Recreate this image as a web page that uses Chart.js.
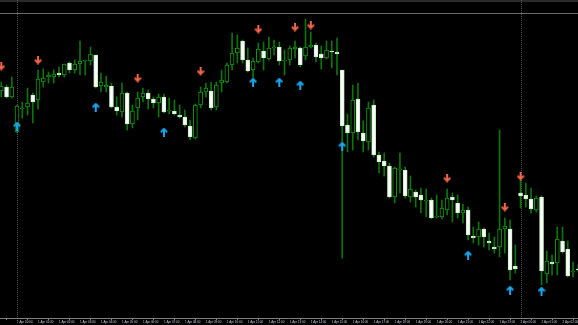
<!DOCTYPE html>
<html>
<head>
<meta charset="utf-8">
<script src="https://cdn.jsdelivr.net/npm/chart.js@4.4.1/dist/chart.umd.min.js"></script>
<style>
  html, body { margin: 0; padding: 0; background: #000; overflow: hidden; }
  canvas { display: block; }
</style>
</head>
<body>
<canvas id="grafico" width="578" height="325"></canvas>
<script>
// M15 candles (prices)
const opens = [
  1.0909, 1.0913, 1.0903, 1.0868, 1.0891, 1.0893, 1.0905, 1.0900, 1.0918, 1.0923,
  1.0923, 1.0927, 1.0925, 1.0937, 1.0930, 1.0936, 1.0939, 1.0939, 1.0945, 1.0914,
  1.0913, 1.0914, 1.0893, 1.0888, 1.0907, 1.0876, 1.0892, 1.0903, 1.0907, 1.0901,
  1.0897, 1.0903, 1.0889, 1.0889, 1.0885, 1.0883, 1.0874, 1.0862, 1.0895, 1.0908,
  1.0909, 1.0893, 1.0917, 1.0918, 1.0935, 1.0947, 1.0959, 1.0940, 1.0930, 1.0938,
  1.0949, 1.0941, 1.0952, 1.0953, 1.0939, 1.0940, 1.0951, 1.0952, 1.0944, 1.0953,
  1.0955, 1.0946, 1.0942, 1.0949, 1.0948, 1.0930, 1.0875, 1.0867, 1.0901, 1.0867,
  1.0858, 1.0895, 1.0845, 1.0839, 1.0834, 1.0803, 1.0830, 1.0830, 1.0803, 1.0808,
  1.0805, 1.0799, 1.0800, 1.0783, 1.0783, 1.0790, 1.0803, 1.0797, 1.0787, 1.0790,
  1.0764, 1.0763, 1.0771, 1.0759, 1.0753, 1.0753, 1.0771, 1.0771, 1.0734, 1.0807,
  1.0805, 1.0801, 1.0790, 1.0803, 1.0726, 1.0738, 1.0737, 1.0759, 1.0751, 1.0728,
  1.0731
];
const highs = [
  1.0918, 1.0915, 1.0923, 1.0895, 1.0898, 1.0912, 1.0907, 1.0930, 1.0931, 1.0928,
  1.0930, 1.0933, 1.0936, 1.0938, 1.0940, 1.0959, 1.0940, 1.0953, 1.0945, 1.0927,
  1.0924, 1.0917, 1.0903, 1.0917, 1.0908, 1.0895, 1.0908, 1.0912, 1.0910, 1.0903,
  1.0906, 1.0906, 1.0902, 1.0900, 1.0895, 1.0890, 1.0880, 1.0896, 1.0913, 1.0917,
  1.0918, 1.0918, 1.0930, 1.0937, 1.0967, 1.0965, 1.0960, 1.0952, 1.0942, 1.0957,
  1.0958, 1.0963, 1.0960, 1.0958, 1.0950, 1.0954, 1.0959, 1.0953, 1.0981, 1.0968,
  1.0957, 1.0954, 1.0959, 1.0959, 1.0962, 1.0930, 1.0886, 1.0915, 1.0917, 1.0879,
  1.0898, 1.0900, 1.0848, 1.0847, 1.0837, 1.0833, 1.0847, 1.0833, 1.0824, 1.0810,
  1.0812, 1.0811, 1.0802, 1.0805, 1.0800, 1.0811, 1.0807, 1.0805, 1.0796, 1.0793,
  1.0773, 1.0778, 1.0772, 1.0767, 1.0763, 1.0870, 1.0782, 1.0780, 1.0755, 1.0822,
  1.0817, 1.0812, 1.0804, 1.0804, 1.0749, 1.0745, 1.0773, 1.0773, 1.0759, 1.0738,
  1.0735
];
const lows = [
  1.0903, 1.0902, 1.0902, 1.0867, 1.0882, 1.0885, 1.0877, 1.0891, 1.0913, 1.0917,
  1.0917, 1.0923, 1.0923, 1.0927, 1.0927, 1.0925, 1.0925, 1.0935, 1.0912, 1.0908,
  1.0908, 1.0892, 1.0885, 1.0883, 1.0870, 1.0872, 1.0880, 1.0898, 1.0891, 1.0892,
  1.0883, 1.0887, 1.0886, 1.0885, 1.0882, 1.0873, 1.0860, 1.0861, 1.0892, 1.0903,
  1.0890, 1.0890, 1.0908, 1.0917, 1.0930, 1.0937, 1.0937, 1.0928, 1.0922, 1.0937,
  1.0930, 1.0940, 1.0945, 1.0935, 1.0925, 1.0935, 1.0942, 1.0933, 1.0940, 1.0952,
  1.0938, 1.0931, 1.0941, 1.0932, 1.0925, 1.0742, 1.0848, 1.0850, 1.0860, 1.0848,
  1.0850, 1.0843, 1.0827, 1.0824, 1.0802, 1.0797, 1.0807, 1.0802, 1.0798, 1.0793,
  1.0787, 1.0783, 1.0781, 1.0782, 1.0781, 1.0785, 1.0778, 1.0782, 1.0777, 1.0760,
  1.0757, 1.0755, 1.0753, 1.0750, 1.0747, 1.0743, 1.0747, 1.0720, 1.0727, 1.0792,
  1.0793, 1.0787, 1.0788, 1.0715, 1.0717, 1.0725, 1.0725, 1.0747, 1.0723, 1.0723,
  1.0728
];
const closes = [
  1.0914, 1.0903, 1.0913, 1.0894, 1.0892, 1.0897, 1.0898, 1.0921, 1.0922, 1.0925,
  1.0926, 1.0925, 1.0936, 1.0930, 1.0936, 1.0939, 1.0940, 1.0946, 1.0913, 1.0918,
  1.0915, 1.0893, 1.0889, 1.0907, 1.0876, 1.0889, 1.0902, 1.0907, 1.0901, 1.0897,
  1.0903, 1.0888, 1.0890, 1.0886, 1.0883, 1.0875, 1.0863, 1.0895, 1.0908, 1.0912,
  1.0892, 1.0915, 1.0920, 1.0935, 1.0947, 1.0952, 1.0940, 1.0929, 1.0939, 1.0951,
  1.0942, 1.0952, 1.0953, 1.0939, 1.0940, 1.0952, 1.0953, 1.0935, 1.0953, 1.0955,
  1.0943, 1.0942, 1.0950, 1.0948, 1.0946, 1.0874, 1.0867, 1.0900, 1.0868, 1.0859,
  1.0892, 1.0845, 1.0838, 1.0834, 1.0803, 1.0832, 1.0831, 1.0804, 1.0811, 1.0803,
  1.0800, 1.0800, 1.0782, 1.0784, 1.0792, 1.0802, 1.0800, 1.0787, 1.0790, 1.0765,
  1.0762, 1.0771, 1.0763, 1.0757, 1.0751, 1.0771, 1.0774, 1.0730, 1.0731, 1.0804,
  1.0801, 1.0791, 1.0802, 1.0729, 1.0739, 1.0736, 1.0761, 1.0748, 1.0724, 1.0729,
  1.0730
];

// setas do indicador (índice do candle, preço)
const buyIdx = [3, 18, 31, 48, 53, 57, 65, 89, 97, 103];
const buyVal = [1.0874, 1.0893, 1.0868, 1.0918, 1.0918, 1.0915, 1.0854, 1.0745, 1.0710, 1.0709];
const sellIdx = [0, 7, 26, 38, 49, 56, 59, 85, 96, 99];
const sellVal = [1.0934, 1.0940, 1.0922, 1.0929, 1.0971, 1.0973, 1.0975, 1.0822, 1.0793, 1.0824];

// eixo de tempo
const tickIdx = [3, 7, 11, 15, 19, 23, 27, 31, 35, 39, 43, 47, 51, 55, 59, 63, 67, 71, 75, 79, 83, 87, 91, 95, 99, 103, 107];
const tickLabels = [
  '1 Apr 00:00', '1 Apr 01:00', '1 Apr 02:00', '1 Apr 03:00', '1 Apr 04:00', '1 Apr 05:00',
  '1 Apr 06:00', '1 Apr 07:00', '1 Apr 08:00', '1 Apr 09:00', '1 Apr 10:00', '1 Apr 11:00',
  '1 Apr 12:00', '1 Apr 13:00', '1 Apr 14:00', '1 Apr 15:00', '1 Apr 16:00', '1 Apr 17:00',
  '1 Apr 18:00', '1 Apr 19:00', '1 Apr 20:00', '1 Apr 21:00', '1 Apr 22:00', '1 Apr 23:00',
  '2 Apr 00:00', '2 Apr 01:00', '2 Apr 02:00'
];
const daySeparators = [3, 99];
const topLine = 1.0987;

const isBear = opens.map((o, i) => closes[i] < o);

function makeArrow(color, up) {
    const c = document.createElement('canvas');
    c.width = 8; c.height = 9;
    const g = c.getContext('2d');
    g.strokeStyle = color;
    g.lineWidth = 2;
    g.beginPath();
    if (up) {
        g.moveTo(4, 9); g.lineTo(4, 1.5);
        g.moveTo(0.8, 4.8); g.lineTo(4, 1.5); g.lineTo(7.2, 4.8);
    } else {
        g.moveTo(4, 0); g.lineTo(4, 7.5);
        g.moveTo(0.8, 4.2); g.lineTo(4, 7.5); g.lineTo(7.2, 4.2);
    }
    g.stroke();
    return c;
}

// fundo preto + linhas de separação de dia
const molduraMT4 = {
    id: 'molduraMT4',
    beforeDraw(chart) {
        const { ctx, width, height } = chart;
        ctx.save();
        ctx.fillStyle = '#000';
        ctx.fillRect(0, 0, width, height);
        ctx.fillStyle = '#2a2a2a';
        ctx.fillRect(0, 0, width, 2);
        ctx.restore();
    },
    beforeDatasetsDraw(chart) {
        const { ctx, chartArea, scales } = chart;
        ctx.save();
        ctx.strokeStyle = '#555';
        ctx.lineWidth = 1;
        ctx.setLineDash([1, 1]);
        daySeparators.forEach(idx => {
            const x = Math.round(scales.x.getPixelForValue(idx)) + 0.5;
            ctx.beginPath();
            ctx.moveTo(x, 0);
            ctx.lineTo(x, chartArea.bottom);
            ctx.stroke();
        });
        ctx.setLineDash([]);
        ctx.strokeStyle = '#6a6a6a';
        const y = Math.round(scales.y.getPixelForValue(topLine)) + 0.5;
        ctx.beginPath();
        ctx.moveTo(0, y);
        ctx.lineTo(chart.width, y);
        ctx.stroke();
        ctx.restore();
    }
};

const ctx = document.getElementById('grafico').getContext('2d');

new Chart(ctx, {
    type: 'bar',
    data: {
        datasets: [
            {
                type: 'scatter',
                data: sellIdx.map((x, i) => ({ x: x, y: sellVal[i] })),
                pointStyle: makeArrow('#f2644c', false),
                clip: false,
                order: 0
            },
            {
                type: 'scatter',
                data: buyIdx.map((x, i) => ({ x: x, y: buyVal[i] })),
                pointStyle: makeArrow('#1aa6ee', true),
                clip: false,
                order: 0
            },
            {
                // corpos
                data: opens.map((o, i) => ({ x: i, y: [Math.min(o, closes[i]), Math.max(o, closes[i])] })),
                backgroundColor: isBear.map(b => b ? '#ffffff' : '#000000'),
                borderColor: isBear.map(b => b ? '#c4ecc4' : '#0f9a0f'),
                borderWidth: 1,
                borderSkipped: false,
                barThickness: 4,
                grouped: false,
                order: 1
            },
            {
                // pavios
                data: lows.map((l, i) => ({ x: i, y: [l, highs[i]] })),
                backgroundColor: '#0a760a',
                borderWidth: 0,
                barThickness: 1,
                grouped: false,
                order: 2
            }
        ]
    },
    options: {
        responsive: false,
        animation: false,
        layout: { padding: 0, autoPadding: false },
        plugins: {
            legend: { display: false },
            tooltip: { enabled: false }
        },
        scales: {
            x: {
                type: 'linear',
                min: -0.25,
                max: 109.95,
                offset: false,
                afterBuildTicks: scale => { scale.ticks = tickIdx.map(v => ({ value: v })); },
                afterFit: scale => {
                    scale.height = 7;
                    scale.paddingLeft = 0;
                    scale.paddingRight = 0;
                },
                grid: { drawOnChartArea: false, drawTicks: true, tickLength: 2, color: '#808080' },
                border: { display: true, color: '#808080' },
                ticks: {
                    autoSkip: false,
                    maxRotation: 0,
                    minRotation: 0,
                    align: 'start',
                    padding: 0,
                    color: '#c4c8d0',
                    font: { family: "'Liberation Sans', sans-serif", size: 3 },
                    callback: (v, i) => tickLabels[i]
                }
            },
            y: {
                display: false,
                min: 1.0682,
                max: 1.1000
            }
        }
    },
    plugins: [molduraMT4]
});
</script>
</body>
</html>
